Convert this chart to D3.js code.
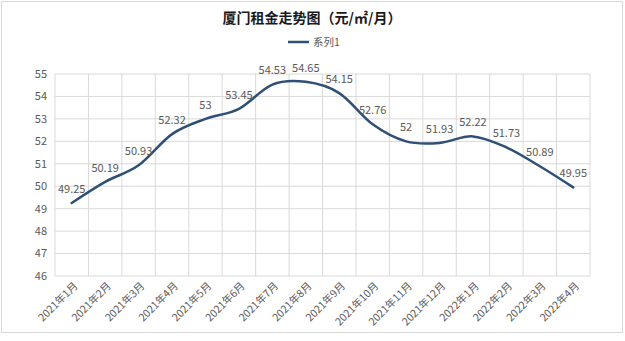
<!DOCTYPE html>
<html><head><meta charset="utf-8">
<script src="https://cdn.jsdelivr.net/npm/d3@7"></script>
<style>body{margin:0;background:#fff}svg{display:block}</style>
</head><body><svg id="c" width="625" height="341"></svg>
<script>
const categories = ["2021年1月","2021年2月","2021年3月","2021年4月","2021年5月","2021年6月","2021年7月","2021年8月","2021年9月","2021年10月","2021年11月","2021年12月","2022年1月","2022年2月","2022年3月","2022年4月"];
const values = [49.25,50.19,50.93,52.32,53,53.45,54.53,54.65,54.15,52.76,52,51.93,52.22,51.73,50.89,49.95];
const yTicks = [46,47,48,49,50,51,52,53,54,55];
const seriesName = "系列1";
const title = "厦门租金走势图（元/㎡/月）";

const font = "'Noto Sans CJK SC','Microsoft YaHei',sans-serif";
const svg = d3.select("#c");
const m = {l:55, r:590, t:74, b:276};
svg.append("rect").attr("x",1.5).attr("y",1.5).attr("width",621).attr("height",331).attr("fill","#fff").attr("stroke","#d9d9d9");

const x = d3.scaleBand().domain(categories).range([m.l,m.r]);
const y = d3.scaleLinear().domain([46,55]).range([m.b,m.t]);

const g = svg.append("g");
yTicks.forEach(t=>{
  g.append("line").attr("x1",m.l).attr("x2",m.r).attr("y1",y(t)).attr("y2",y(t)).attr("stroke","#d9d9d9").attr("stroke-width",1);
  g.append("text").attr("x",m.l-8).attr("y",y(t)).attr("dy","0.35em").attr("text-anchor","end")
   .attr("font-family",font).attr("font-size",11).attr("fill","#595959").text(t);
});
categories.concat([null]).forEach((c,i)=>{
  const xx = c===null ? m.r : x(c);
  g.append("line").attr("x1",xx).attr("x2",xx).attr("y1",m.t).attr("y2",m.b).attr("stroke","#d9d9d9");
});
categories.forEach(c=>{
  const cx = x(c)+x.bandwidth()/2+4;
  g.append("text").attr("transform",`translate(${cx},${m.b+8}) rotate(-45)`).attr("text-anchor","end").attr("dy","0.35em")
   .attr("font-family",font).attr("font-size",10.5).attr("fill","#595959").text(c);
});

const line = d3.line().x((d,i)=>x(categories[i])+x.bandwidth()/2).y(d=>y(d)).curve(d3.curveCardinal.tension(0));
svg.append("path").datum(values).attr("d",line).attr("fill","none").attr("stroke","#2f4f74").attr("stroke-width",2.5).attr("stroke-linecap","round");

values.forEach((v,i)=>{
  svg.append("text").attr("x",x(categories[i])+x.bandwidth()/2).attr("y",y(v)-14).attr("dy","0.35em").attr("text-anchor","middle")
   .attr("font-family",font).attr("font-size",11).attr("fill","#595959").text(v);
});

svg.append("text").attr("x",312).attr("y",18).attr("dy","0.35em").attr("text-anchor","middle")
  .attr("font-family",font).attr("font-size",14).attr("font-weight","bold").attr("fill","#1a1a1a").text(title);
svg.append("line").attr("x1",288).attr("x2",309).attr("y1",42).attr("y2",42).attr("stroke","#2f4f74").attr("stroke-width",2.5);
svg.append("text").attr("x",313).attr("y",42).attr("dy","0.35em").attr("font-family",font).attr("font-size",10.5).attr("fill","#595959").text(seriesName);
</script></body></html>
